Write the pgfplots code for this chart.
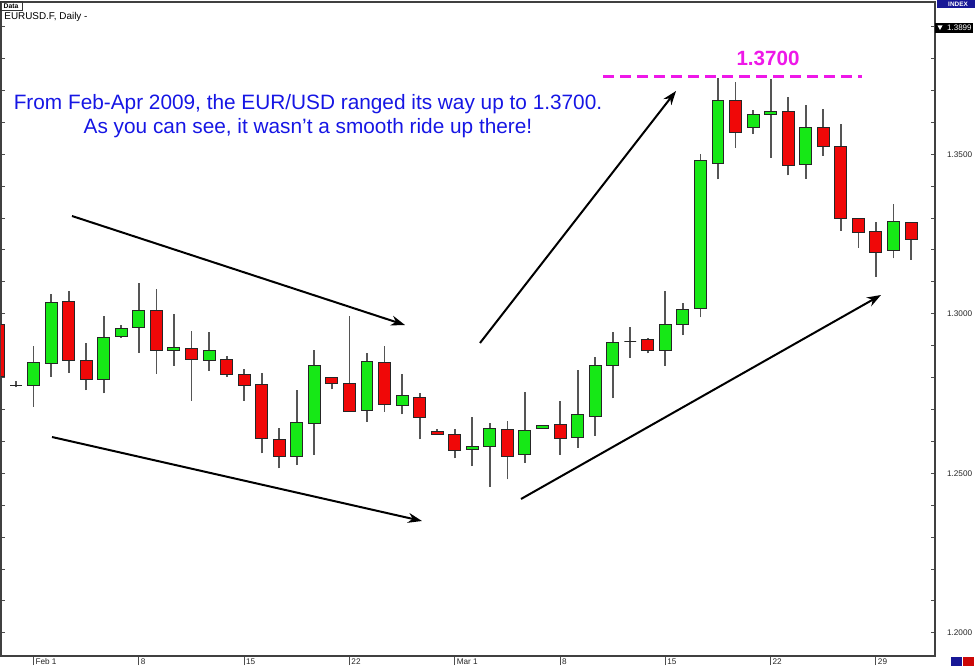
\documentclass[border=0pt]{standalone}
\usepackage{fontspec}
\setmainfont{Liberation Sans}
\usepackage{pgfplots}
\pgfplotsset{compat=1.18}
\usepackage{pgfplotstable}
\usetikzlibrary{arrows.meta}

\definecolor{cgreen}{RGB}{22,232,22}
\definecolor{cred}{RGB}{240,8,8}
\definecolor{wick}{RGB}{85,85,85}
\definecolor{annblue}{RGB}{22,22,228}
\definecolor{annmag}{RGB}{238,24,232}
\definecolor{navy}{RGB}{24,24,150}

\pgfplotstableread{
i o h l c
-1 1.29649 1.29743 1.27925 1.28028
0 1.27752 1.27893 1.27690 1.27752
1 1.27737 1.28991 1.27088 1.28467
2 1.28436 1.30611 1.28028 1.30361
3 1.30401 1.30715 1.28154 1.28530
4 1.28542 1.29075 1.27611 1.27956
5 1.27956 1.29931 1.27508 1.29251
6 1.29273 1.29649 1.29257 1.29545
7 1.29577 1.30956 1.28781 1.30119
8 1.30119 1.30768 1.28113 1.28843
9 1.28843 1.29984 1.28364 1.28937
10 1.28919 1.29461 1.27276 1.28574
11 1.28530 1.29420 1.28216 1.28865
12 1.28552 1.28677 1.28028 1.28091
13 1.28091 1.28260 1.27276 1.27768
14 1.27790 1.28135 1.25627 1.26085
15 1.26066 1.26411 1.25157 1.25542
16 1.25542 1.27611 1.25260 1.26599
17 1.26555 1.28865 1.25574 1.28364
18 1.28009 1.28019 1.27633 1.27809
19 1.27809 1.29931 1.26931 1.26953
20 1.26975 1.28781 1.26618 1.28520
21 1.28458 1.28991 1.26931 1.27163
22 1.27110 1.28113 1.26850 1.27433
23 1.27382 1.27527 1.26066 1.26756
24 1.26326 1.26379 1.26201 1.26232
25 1.26201 1.26389 1.25470 1.25730
26 1.25752 1.26774 1.25229 1.25834
27 1.25856 1.26567 1.24580 1.26411
28 1.26379 1.26649 1.24812 1.25542
29 1.25574 1.27539 1.25332 1.26357
30 1.26411 1.26514 1.26411 1.26514
31 1.26545 1.27267 1.25574 1.26097
32 1.26129 1.28238 1.25803 1.26828
33 1.26796 1.28646 1.26179 1.28364
34 1.28364 1.29439 1.27351 1.29094
35 1.29132 1.29586 1.28630 1.29132
36 1.29201 1.29251 1.28762 1.28843
37 1.28865 1.30724 1.28364 1.29649
38 1.29680 1.30329 1.29335 1.30150
39 1.30160 1.35000 1.29890 1.34821
40 1.34696 1.37382 1.34216 1.36671
41 1.36671 1.37276 1.35207 1.35677
42 1.35846 1.36389 1.35636 1.36232
43 1.36263 1.37361 1.34893 1.36357
44 1.36335 1.36806 1.34342 1.34655
45 1.34665 1.36546 1.34226 1.35834
46 1.35846 1.36411 1.34956 1.35251
47 1.35260 1.35940 1.32605 1.32981
48 1.32981 1.32981 1.32072 1.32533
49 1.32574 1.32868 1.31163 1.31906
50 1.31978 1.33442 1.31740 1.32909
51 1.32856 1.32856 1.31687 1.32335
}\candles

\pgfplotsset{
  wickline/.style={draw=wick, line width=0.9pt, mark=none, forget plot},
  body/.style={draw=black!85, line width=0.5pt, mark=none, forget plot},
}

\begin{document}
\begin{tikzpicture}
\path[use as bounding box] (0,0) rectangle (487.5pt,333pt);
\begin{axis}[
  at={(0.5pt,5pt)}, anchor=south west,
  scale only axis, width=467pt, height=327pt,
  xmin=-0.855, xmax=52.365, ymin=1.19273, ymax=1.39774,
  axis line style={draw=black!75, line width=0.6pt},
  xtick={1,7,13,19,25,31,37,43,49},
  xticklabels={Feb 1,8,15,22,Mar 1,8,15,22,29},
  xtick pos=left, xtick align=outside,
  xtick style={/pgfplots/major tick length=4.5pt},
  ytick={1.20,1.25,1.30,1.35},
  yticklabels={1.2000,1.2500,1.3000,1.3500},
  minor ytick={1.19,1.20,1.21,1.22,1.23,1.24,1.25,1.26,1.27,1.28,1.29,1.30,1.31,1.32,1.33,1.34,1.35,1.36,1.37,1.38,1.39},
  ytick pos=both, yticklabel pos=right, ytick align=inside,
  major tick length=2pt, minor tick length=2pt,
  tick style={draw=black!70, line width=0.5pt},
  ticklabel style={font=\fontsize{4.1}{4.6}\selectfont, text=black!85},
  xticklabel style={anchor=north west, inner sep=0.5pt, xshift=0.3pt, yshift=1.5pt},
  yticklabel style={anchor=west, xshift=2.5pt},
]
\pgfplotsinvokeforeach{0,...,52}{%
  \pgfplotstablegetelem{#1}{i}\of\candles \let\ci\pgfplotsretval
  \pgfplotstablegetelem{#1}{o}\of\candles \let\co\pgfplotsretval
  \pgfplotstablegetelem{#1}{h}\of\candles \let\ch\pgfplotsretval
  \pgfplotstablegetelem{#1}{l}\of\candles \let\cl\pgfplotsretval
  \pgfplotstablegetelem{#1}{c}\of\candles \let\cc\pgfplotsretval
  \ifdim\cc pt<\co pt \def\cf{cred}\let\cb\cc\let\ct\co
  \else \def\cf{cgreen}\let\cb\co\let\ct\cc\fi
  \pgfmathsetmacro\xl{\ci-0.34}%
  \pgfmathsetmacro\xr{\ci+0.34}%
  \edef\doplot{%
    \noexpand\addplot[wickline] coordinates {(\ci,\cl) (\ci,\ch)};%
    \noexpand\addplot[body, fill=\cf] coordinates {(\xl,\cb) (\xr,\cb) (\xr,\ct) (\xl,\ct)} -- cycle;%
  }%
  \doplot
}
\end{axis}

\begin{scope}[x=0.5pt, y=-0.5pt, shift={(0pt,333pt)}]
  % window decorations
  \draw[black!80, line width=0.4pt] (0.5,1) rectangle (22,10.5);
  \node[font=\bfseries\fontsize{3.4}{4}\selectfont, inner sep=0] at (11,6) {Data};
  \node[anchor=base west, font=\fontsize{4.95}{5.5}\selectfont, inner sep=0] at (4,19.5) {EURUSD.F, Daily -};
  \fill[navy] (937,0) rectangle (975,8);
  \node[font=\bfseries\fontsize{3.2}{4}\selectfont, text=white, inner sep=0] at (958,4) {INDEX};
  \fill[black] (935,23) rectangle (973,33);
  \fill[white] (937.5,25.5) -- (942.5,25.5) -- (940,30) -- cycle;
  \node[font=\fontsize{4}{4.5}\selectfont, text=white, inner sep=0, anchor=east] at (972,28) {1.3899};
  \fill[navy] (951,657) rectangle (962,666);
  \fill[cred!85!black] (963,657) rectangle (974,666);
  % annotations
  \node[font=\fontsize{10.4}{12}\selectfont, text=annblue, align=center, inner sep=0] at (308,116)
    {From Feb-Apr 2009, the EUR/USD ranged its way up to 1.3700.\\As you can see, it wasn't a smooth ride up there!};
  \draw[annmag, line width=1.3pt, dash pattern=on 5.5pt off 3pt] (603,76.5) -- (862,76.5);
  \node[font=\bfseries\fontsize{10.3}{12}\selectfont, text=annmag, inner sep=0] at (768,58) {1.3700};
  \draw[black, line width=1pt, -{Stealth[length=7pt, width=5pt]}] (72,216) -- (405,325);
  \draw[black, line width=1pt, -{Stealth[length=7pt, width=5pt]}] (52,437) -- (422,521);
  \draw[black, line width=1pt, -{Stealth[length=7pt, width=5pt]}] (480,343) -- (676,91);
  \draw[black, line width=1pt, -{Stealth[length=7pt, width=5pt]}] (521,499) -- (881,295);
\end{scope}
\end{tikzpicture}
\end{document}
